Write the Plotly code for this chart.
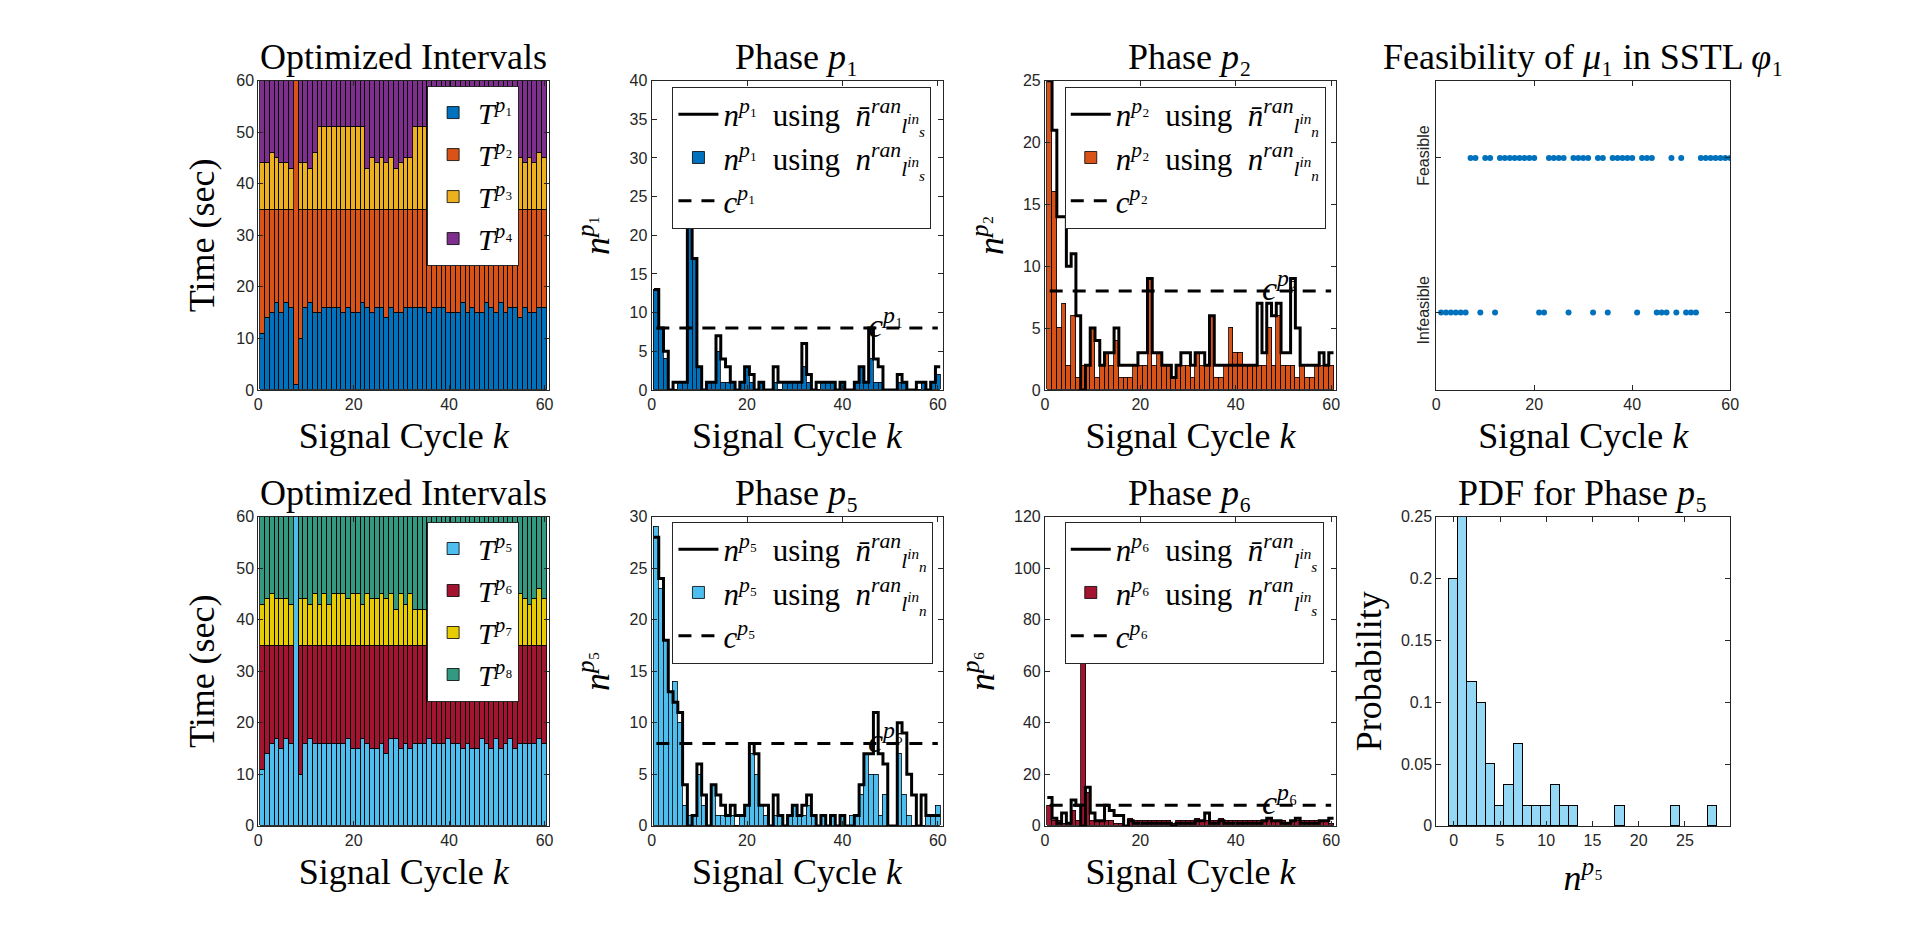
import plotly.graph_objects as go

W, H = 1920, 937
cycles = list(range(1, 61))

# ---- Optimized intervals, phases p1..p4 (sec) ----
T_p1 = [11,14,15,17,15,17,16,1,10,16, 17,15,15,16,16,16,16,15,16,15, 15,17,16,15,16,16,14,16,15,15,
        16,16,16,16,16,15,16,16,16,15, 15,15,17,15,16,15,15,17,16,15, 17,15,16,16,14,16,15,15,16,16]
T_p2 = [24,21,20,18,20,18,19,59,25,19, 18,20,20,19,19,19,19,20,19,20, 20,18,19,20,19,19,21,19,20,20,
        19,19,19,19,19,20,19,19,19,20, 20,20,18,20,19,20,20,18,19,20, 18,20,19,19,21,19,20,20,19,19]
T_p3 = [9,9,11,10,9,9,8,0,9,9, 8,11,16,16,16,16,16,16,16,16, 16,16,8,10,9,10,9,10,8,9,
        10,10,16,16,16,10,9,9,10,8, 9,10,9,11,9,10,8,9,10,9, 9,10,9,8,10,9,10,9,11,10]
T_p4 = [16,16,14,15,16,16,17,0,16,16, 17,14,9,9,9,9,9,9,9,9, 9,9,17,15,16,15,16,15,17,16,
        15,15,9,9,9,15,16,16,15,17, 16,15,16,14,16,15,17,16,15,16, 16,15,16,17,15,16,15,16,14,15]

# ---- Optimized intervals, phases p5..p8 (sec) ----
T_p5 = [11,14,16,17,15,17,16,60,10,16, 17,16,16,16,16,16,16,16,17,15, 15,17,16,15,15,16,14,17,17,15,
        16,15,16,16,16,17,16,16,16,17, 16,16,15,16,15,15,17,16,15,17, 15,16,17,15,16,16,16,16,17,16]
T_p6 = [24,21,19,18,20,18,19,0,25,19, 18,19,19,19,19,19,19,19,18,20, 20,18,19,20,20,19,21,18,18,20,
        19,20,19,19,19,18,19,19,19,18, 19,19,20,19,20,20,18,19,20,18, 20,19,18,20,19,19,19,19,18,19]
T_p7 = [8,9,10,9,9,9,8,0,9,9, 8,10,8,10,8,10,10,10,9,10, 10,8,10,9,9,10,9,10,7,10,
        8,10,7,7,7,8,9,10,9,8, 9,10,9,8,9,10,9,8,10,9, 9,10,8,9,10,9,8,9,11,9]
T_p8 = [17,16,15,16,16,16,17,0,16,16, 17,15,17,15,17,15,15,15,16,15, 15,17,15,16,16,15,16,15,18,15,
        17,15,18,18,18,17,16,15,16,17, 16,15,16,17,16,15,16,17,15,16, 16,15,17,16,15,16,17,16,14,16]

# ---- queue lengths ----
n_p1_bar  = [13,8,4,0,0,1,1,24,17,3, 0,1,1,5,1,1,1,0,1,3, 1,0,1,0,0,1,0,1,1,1,
             1,3,1,0,0,1,1,1,0,1, 0,0,1,3,1,4,1,1,0,0, 0,1,1,0,0,0,1,0,1,2]
n_p1_step = [13,8,5,0,1,1,1,24,17,3, 0,1,1,7,4,3,1,0,1,3, 2,0,1,0,0,3,1,1,1,1,
             1,6,2,0,1,1,1,1,0,1, 0,0,1,3,1,8,4,3,0,0, 0,2,1,0,0,1,1,0,1,3]
c_p1 = 8

n_p2_bar  = [25,16,5,7,2,6,1,2,2,5, 1,2,3,2,4,1,1,1,2,2, 2,9,2,3,2,2,1,2,2,2,
             1,3,2,2,6,1,1,2,5,3, 3,2,2,2,2,2,5,2,6,2, 2,2,1,2,1,1,2,2,2,2]
n_p2_step = [25,21,14,14,10,11,6,0,2,5, 4,2,3,3,5,2,2,2,2,3, 3,9,3,3,2,2,1,2,3,3,
             2,3,3,2,6,2,2,2,2,2, 2,2,2,2,7,3,7,6,7,3, 3,9,5,2,2,2,2,3,2,3]
c_p2 = 8

n_p5_bar  = [29,23,18,13,14,10,2,1,1,5, 2,0,4,1,1,1,1,0,1,2, 7,5,2,1,0,1,1,0,1,2,
             1,1,2,1,0,1,0,1,0,1, 0,1,1,3,7,5,5,1,3,0, 0,7,3,1,0,0,0,1,1,2]
n_p5_step = [28,24,18,13,12,11,4,0,1,6, 3,0,4,3,2,1,2,1,1,2, 8,7,2,2,0,3,1,0,1,2,
             1,2,3,1,0,1,0,1,0,1, 0,0,1,4,7,7,11,7,6,0, 0,10,9,5,3,0,3,1,1,1]
c_p5 = 8

n_p6_bar  = [8,2,2,1,1,6,2,68,13,2, 2,2,2,2,1,1,0,3,2,2, 2,2,2,2,2,2,1,2,2,2,
             2,3,2,2,2,2,3,2,2,2, 2,2,2,2,2,2,3,2,2,2, 1,2,2,2,2,2,2,2,2,1]
n_p6_step = [11,3,1,5,1,10,8,0,15,5, 2,2,8,6,4,4,0,2,1,1, 1,1,1,1,1,1,0,1,1,1,
             1,2,2,5,1,1,2,1,1,1, 1,1,1,1,1,2,3,2,2,1, 1,2,3,1,1,1,1,2,2,3]
c_p6 = 8

# ---- feasibility of mu_1 (1 = Feasible, 0 = Infeasible) ----
feasible = [0,0,0,0,0,0,1,1,0,1, 1,0,1,1,1,1,1,1,1,1, 0,0,1,1,1,1,0,1,1,1,
            1,0,1,1,0,1,1,1,1,1, 0,1,1,1,0,0,0,1,0,1, 0,0,0,1,1,1,1,1,1,1]
feas_labels = ["Infeasible", "Feasible"]

# ---------------------------------------------------------------------------
SERIF = "Liberation Serif, Times New Roman, serif"
SANS = "Liberation Sans, Arial, sans-serif"
AX = "#262626"
SUB = {"1": "₁", "2": "₂", "3": "₃", "4": "₄", "5": "₅", "6": "₆", "7": "₇", "8": "₈"}


def sym(base, i):
    return f"<i>{base}</i><sup><i>p</i>{SUB[str(i)]}</sup>"


def nbar_label(i, sub, over):
    n = "<i>n̄</i>" if over else "<i>n</i>"
    return (f"{sym('n', i)}  using  {n}<sup><i>ran</i></sup>"
            f"<sub><i>l<sup>in</sup><sub>{sub}</sub></i></sub>")


cols = [(256, 549), (652, 945), (1048, 1341), (1442, 1738)]
rows = [(74, 389), (518, 833)]

fig = go.Figure()
layout = dict(width=W, height=H, margin=dict(l=0, r=0, t=0, b=0),
              paper_bgcolor="white", plot_bgcolor="white",
              barmode="stack", bargap=0, showlegend=True, annotations=[])


def ax_common(**kw):
    d = dict(showline=True, linecolor=AX, linewidth=1, mirror="ticks", ticks="inside",
             ticklen=5, tickcolor=AX, tickfont=dict(family=SANS, size=16, color=AX),
             showgrid=False, zeroline=False, fixedrange=True)
    d.update(kw)
    return d


def title_font():
    return dict(family=SERIF, size=36, color="black")


def set_axes(idx, xkw, ykw, title):
    r, c = divmod(idx - 1, 4)
    xs = "" if idx == 1 else str(idx)
    xd = [cols[c][0] / W, cols[c][1] / W]
    yd = [1 - rows[r][1] / H, 1 - rows[r][0] / H]
    layout["xaxis" + xs] = ax_common(domain=xd, anchor="y" + xs, **xkw)
    layout["yaxis" + xs] = ax_common(domain=yd, anchor="x" + xs, **ykw)
    layout["annotations"].append(dict(text=title, xref=f"x{xs} domain", yref=f"y{xs} domain",
                                      x=0.5, y=1, xanchor="center", yanchor="bottom", yshift=2,
                                      showarrow=False, font=title_font()))
    return "x" + xs, "y" + xs


def legend_cfg(xp, yp, size):
    return dict(x=xp / W, y=1 - yp / H, xanchor="left", yanchor="top", bgcolor="white",
                bordercolor=AX, borderwidth=1, font=dict(family=SERIF, size=size, color="black"),
                traceorder="normal", itemwidth=40, tracegroupgap=0)


xlab = dict(text="Signal Cycle <i>k</i>", font=title_font(), standoff=10)
kticks = dict(range=[0, 61], tickvals=[0, 20, 40, 60])

# ---- interval panels ----
for idx, series, colors, lg, lpos in [
    (1, [T_p1, T_p2, T_p3, T_p4], ["#0072BD", "#D95319", "#EDB120", "#7E2F8E"], "legend", (426, 79)),
    (5, [T_p5, T_p6, T_p7, T_p8], ["#4DBEEE", "#A2142F", "#E6CC00", "#339980"], "legend4", (426, 523)),
]:
    xa, ya = set_axes(idx, dict(title=xlab, **kticks),
                      dict(range=[0, 60], tickvals=list(range(0, 61, 10)),
                           title=dict(text="Time (sec)", font=title_font(), standoff=10)),
                      "Optimized Intervals")
    first = 1 if idx == 1 else 5
    for j, (vals, col) in enumerate(zip(series, colors)):
        fig.add_trace(go.Bar(x=cycles, y=vals, width=1, marker=dict(color=col, line=dict(color="black", width=0.8)),
                             name=f"<i>T</i><sup><i>p</i>{SUB[str(first + j)]}</sup>", xaxis=xa, yaxis=ya,
                             legend=lg, legendrank=j + 1))
    layout[lg] = legend_cfg(*lpos, 30)

# ---- queue panels ----
for idx, p, bars, steps, c, col, sub_bar, sub_line, ymax, ystep, lg, lpos in [
    (2, 1, n_p1_bar, n_p1_step, c_p1, "#0072BD", "s", "s", 40, 5, "legend2", (673, 80)),
    (3, 2, n_p2_bar, n_p2_step, c_p2, "#D95319", "n", "n", 25, 5, "legend3", (1068, 80)),
    (6, 5, n_p5_bar, n_p5_step, c_p5, "#4DBEEE", "n", "n", 30, 5, "legend5", (673, 523)),
    (7, 6, n_p6_bar, n_p6_step, c_p6, "#A2142F", "s", "s", 120, 20, "legend6", (1068, 523)),
]:
    xa, ya = set_axes(idx, dict(title=xlab, **kticks),
                      dict(range=[0, ymax], tickvals=list(range(0, ymax + 1, ystep)),
                           title=dict(text=sym("n", p), font=title_font(), standoff=8)),
                      f"Phase <i>p</i>{SUB[str(p)]}")
    fig.add_trace(go.Bar(x=cycles, y=bars, width=1,
                         marker=dict(color=col, line=dict(color="black", width=0.8)),
                         name=nbar_label(p, sub_bar, False), xaxis=xa, yaxis=ya, legend=lg, legendrank=2))
    sx = [k - 0.5 for k in cycles] + [cycles[-1] + 0.5]
    sy = steps + [steps[-1]]
    fig.add_trace(go.Scatter(x=sx, y=sy, mode="lines", line=dict(color="black", width=3, shape="hv"),
                             name=nbar_label(p, sub_line, True), xaxis=xa, yaxis=ya, legend=lg, legendrank=1))
    fig.add_trace(go.Scatter(x=cycles, y=[c] * len(cycles), mode="lines",
                             line=dict(color="black", width=3, dash="13px,10px"),
                             name=sym("c", p), xaxis=xa, yaxis=ya, legend=lg, legendrank=3))
    layout["annotations"].append(dict(text=sym("c", p), xref=xa, yref=ya, x=45, y=c, xanchor="left",
                                      yanchor="middle", yshift=5, showarrow=False,
                                      font=dict(family=SERIF, size=34, color="black")))
    layout[lg] = legend_cfg(*lpos, 31)

# ---- feasibility panel ----
xa, ya = set_axes(4, dict(title=xlab, range=[0, 60], tickvals=[0, 20, 40, 60]),
                  dict(range=[-0.5, 1.5], tickvals=[0, 1], ticktext=feas_labels, tickangle=-90),
                  "Feasibility of <i>μ</i>₁ in SSTL <i>φ</i>₁")
fig.add_trace(go.Scatter(x=cycles, y=feasible, mode="markers", marker=dict(color="#0072BD", size=6),
                         showlegend=False, xaxis=xa, yaxis=ya))

# ---- PDF panel ----
xa, ya = set_axes(8, dict(title=dict(text=sym("n", 5), font=title_font(), standoff=16),
                          range=[-1.9, 29.9], tickvals=[0, 5, 10, 15, 20, 25]),
                  dict(range=[0, 0.25], tickvals=[0, 0.05, 0.1, 0.15, 0.2, 0.25],
                       ticktext=["0", "0.05", "0.1", "0.15", "0.2", "0.25"],
                       title=dict(text="Probability", font=title_font(), standoff=8)),
                  "PDF for Phase <i>p</i>₅")
fig.add_trace(go.Histogram(x=n_p5_step, histnorm="probability", xbins=dict(start=-0.5, end=28.5, size=1),
                           marker=dict(color="#94D8F5", line=dict(color="black", width=1)),
                           showlegend=False, xaxis=xa, yaxis=ya))

fig.update_layout(**layout)
fig.write_html("out.html", config={"displayModeBar": False})
